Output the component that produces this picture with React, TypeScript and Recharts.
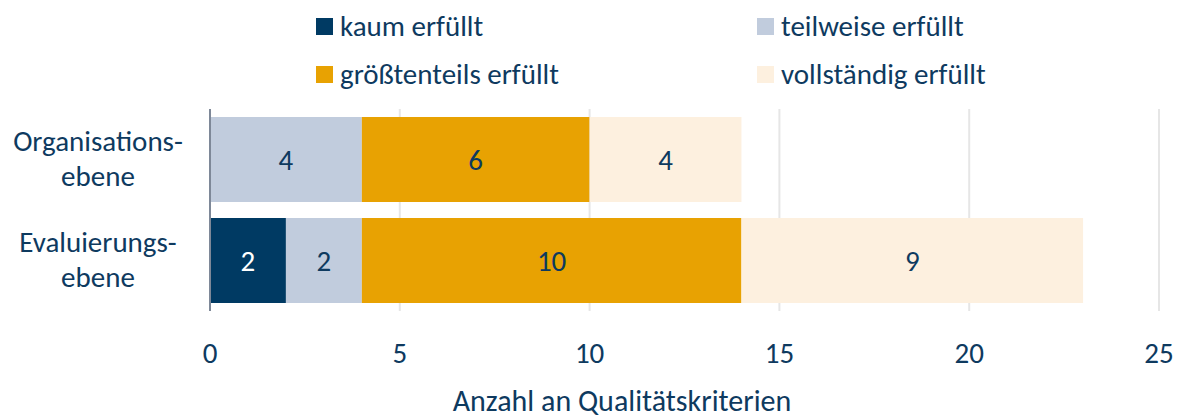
import { BarChart, Bar, XAxis, YAxis, CartesianGrid, LabelList } from 'recharts';

const categories = ['Organisations-\nebene', 'Evaluierungs-\nebene'];
const kaum = [0, 2];
const teilweise = [4, 2];
const groesstenteils = [6, 10];
const vollstaendig = [4, 9];
const xTicks = [0, 5, 10, 15, 20, 25];

const SERIES = [
  { key: 'kaum', name: 'kaum erfüllt', color: '#003A63', label: '#ffffff' },
  { key: 'teilweise', name: 'teilweise erfüllt', color: '#C1CCDD', label: '#0E3A5F' },
  { key: 'groesstenteils', name: 'größtenteils erfüllt', color: '#E8A202', label: '#0E3A5F' },
  { key: 'vollstaendig', name: 'vollständig erfüllt', color: '#FDF0DF', label: '#0E3A5F' },
];

const data = categories.map((name, i) => ({
  name,
  kaum: kaum[i],
  teilweise: teilweise[i],
  groesstenteils: groesstenteils[i],
  vollstaendig: vollstaendig[i],
}));

const FONT = 'Carlito, Lato, sans-serif';
const TEXT = '#0E3A5F';
const FS = 29;

function CategoryTick(props: any) {
  const { x, y, payload } = props;
  const lines = String(payload.value).split('\n');
  return (
    <g>
      {lines.map((line, i) => (
        <text
          key={i}
          x={x - 104}
          y={y - 9 + i * 35}
          textAnchor="middle"
          fill={TEXT}
          fontSize={FS}
          fontFamily={FONT}
        >
          {line}
        </text>
      ))}
    </g>
  );
}

function ValueTick(props: any) {
  const { x, y, payload } = props;
  return (
    <text x={x} y={y + 44} textAnchor="middle" fill={TEXT} fontSize={FS} fontFamily={FONT}>
      {payload.value}
    </text>
  );
}

function LegendBox() {
  const cols = [
    [SERIES[0], SERIES[2]],
    [SERIES[1], SERIES[3]],
  ];
  return (
    <div style={{ position: 'absolute', left: 316, top: 2, display: 'flex' }}>
      {cols.map((col, ci) => (
        <div key={ci} style={{ width: ci === 0 ? 441 : 300 }}>
          {col.map((s) => (
            <div key={s.key} style={{ display: 'flex', alignItems: 'center', height: 48 }}>
              <span style={{ width: 17, height: 17, background: s.color, display: 'inline-block', marginRight: 7 }} />
              <span style={{ color: TEXT, fontSize: FS, fontFamily: FONT, lineHeight: '48px' }}>{s.name}</span>
            </div>
          ))}
        </div>
      ))}
    </div>
  );
}

export default function App() {
  return (
    <div style={{ position: 'absolute', left: 0, top: 0, width: 1177, height: 418, background: '#fff', overflow: 'hidden' }}>
      <LegendBox />
      <BarChart
        width={1177}
        height={418}
        data={data}
        layout="vertical"
        margin={{ top: 109, right: 18, bottom: 0, left: 0 }}
      >
        <CartesianGrid horizontal={false} stroke="#E6E6E6" strokeWidth={2} />
        <XAxis
          type="number"
          domain={[0, 25]}
          ticks={xTicks}
          axisLine={false}
          tickLine={false}
          height={107}
          tick={<ValueTick />}
          interval={0}
        />
        <YAxis
          type="category"
          dataKey="name"
          width={210}
          axisLine={{ stroke: '#7E8898', strokeWidth: 2 }}
          tickLine={false}
          tick={<CategoryTick />}
        />
        {SERIES.map((s) => (
          <Bar key={s.key} dataKey={s.key} name={s.name} stackId="a" fill={s.color} barSize={85} isAnimationActive={false}>
            <LabelList
              dataKey={s.key}
              position="center"
              fill={s.label}
              fontSize={FS}
              fontFamily={FONT}
              formatter={(v: any) => (v ? v : '')}
            />
          </Bar>
        ))}
      </BarChart>
      <div
        style={{
          position: 'absolute',
          left: 0,
          width: 1244,
          top: 386,
          textAlign: 'center',
          color: TEXT,
          fontSize: 30,
          fontFamily: FONT,
          lineHeight: '30px',
          whiteSpace: 'nowrap',
        }}
      >
        Anzahl an Qualitätskriterien
      </div>
    </div>
  );
}
